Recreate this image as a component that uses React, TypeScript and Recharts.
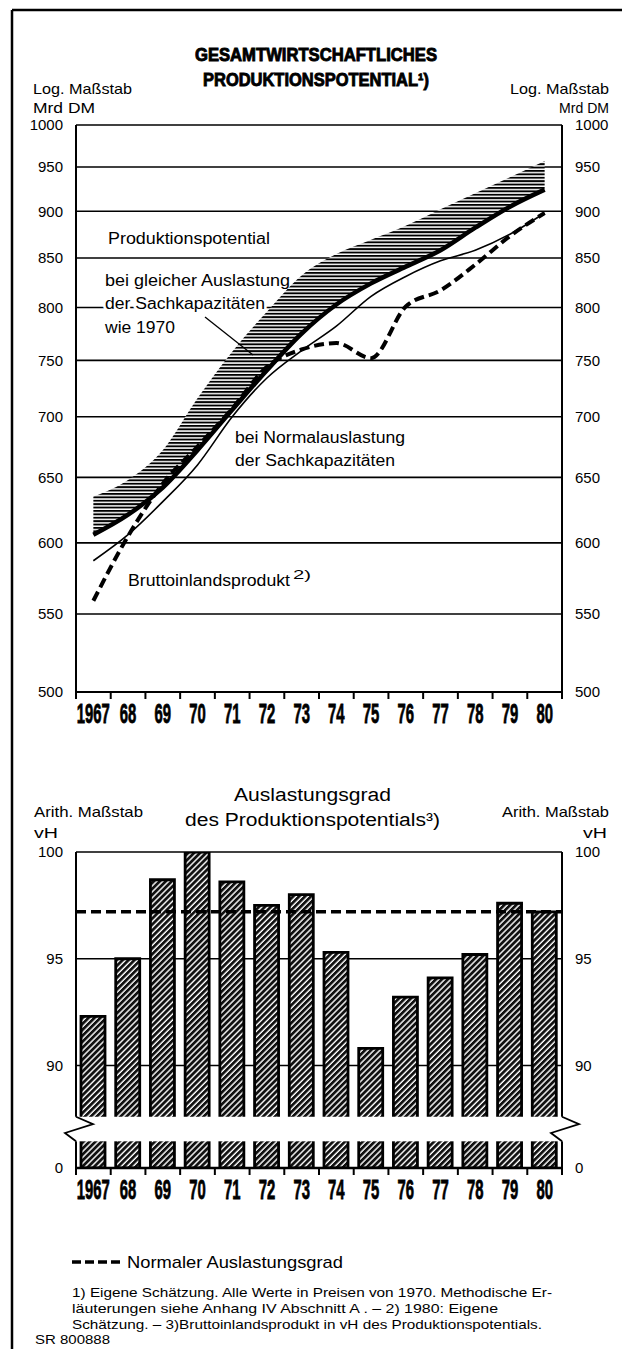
import React from "react";
import {
  ComposedChart,
  Line,
  Area,
  Bar,
  XAxis,
  YAxis,
  CartesianGrid,
  ReferenceLine,
  ReferenceArea,
} from "recharts";

// years on both panels
const years = ["1967", "68", "69", "70", "71", "72", "73", "74", "75", "76", "77", "78", "79", "80"];

// upper panel, Mrd DM (log scale)
const hatchTop = [635, 648, 672, 716, 758, 796, 832, 854, 869, 884, 902, 920, 938, 957];
const potGleich = [606, 621, 642, 672, 706, 741, 775, 803, 824, 841, 858, 882, 905, 924];
const potNormal = [587, 606, 631, 660, 700, 734, 759, 782, 811, 831, 847, 858, 875, 898];
const bip = [559, 605, 645, 675, 707, 744, 760, 766, 752, 801, 817, 843, 873, 898];
const logTicks = [500, 550, 600, 650, 700, 750, 800, 850, 900, 950, 1000];

// lower panel, vH
const auslastung = [92.3, 95.0, 98.7, 100.0, 98.6, 97.5, 98.0, 95.3, 90.8, 93.2, 94.1, 95.2, 97.6, 97.2];
const normalGrad = 97.2;
// broken axis: the floor of the domain stands for 0
const AXIS_FLOOR = 85.2;
const BREAK_LOW = 86.45;
const BREAK_HIGH = 87.6;
const vhTicks = [AXIS_FLOOR, 90, 95, 100];

const FONT = '"Liberation Sans", Arial, Helvetica, sans-serif';
const PLOT_L = 76;
const PLOT_R = 562;
const AXIS_W = 50;
const BAND = (PLOT_R - PLOT_L) / years.length;

const potData = years.map((year, i) => ({
  year,
  band: [potGleich[i], hatchTop[i]],
  potGleich: potGleich[i],
  potNormal: potNormal[i],
  bip: bip[i],
}));

const utilData = years.map((year, i) => ({ year, value: auslastung[i] }));

function YearTick(props: any) {
  const { x, y, payload, index } = props;
  const left = x - BAND / 2;
  return (
    <g>
      <line x1={left} x2={left} y1={y} y2={y + 7} stroke="#000" strokeWidth={2} />
      {index === years.length - 1 && (
        <line x1={left + BAND} x2={left + BAND} y1={y} y2={y + 7} stroke="#000" strokeWidth={2} />
      )}
      <g transform={`translate(${x},${y + 31}) scale(0.55,1)`}>
        <text
          x={0}
          y={0}
          textAnchor="middle"
          fontFamily={FONT}
          fontSize={27}
          fontWeight={700}
          fill="#000"
          stroke="#000"
          strokeWidth={0.8}
        >
          {payload.value}
        </text>
      </g>
    </g>
  );
}

function BreakShape(props: any) {
  const { x, y, width, height } = props;
  const zig = (x0: number) =>
    `${x0},${y} ${x0 + 17},${y + height * 0.3} ${x0 - 11},${y + height * 0.66} ${x0},${y + height}`;
  return (
    <g>
      <rect x={x - 14} y={y} width={width + 34} height={height} fill="#fff" />
      <polyline points={zig(x)} fill="none" stroke="#000" strokeWidth={1.8} />
      <polyline points={zig(x + width)} fill="none" stroke="#000" strokeWidth={1.8} />
    </g>
  );
}

const tickStyle = { fill: "#000", fontSize: 15, fontFamily: FONT };

function T(props: any) {
  const { children, halo, ...rest } = props;
  return (
    <text
      fontFamily={FONT}
      fill="#000"
      lengthAdjust="spacingAndGlyphs"
      {...(halo ? { stroke: "#fff", strokeWidth: 5, paintOrder: "stroke" } : {})}
      {...rest}
    >
      {children}
    </text>
  );
}

export default function App() {
  return (
    <div
      style={{
        position: "absolute",
        left: 0,
        top: 0,
        width: 622,
        height: 1349,
        background: "#fff",
        overflow: "hidden",
        fontFamily: FONT,
      }}
    >
      <svg width={0} height={0} style={{ position: "absolute" }}>
        <defs>
          <pattern id="hlines" patternUnits="userSpaceOnUse" width={8} height={3.4}>
            <rect width={8} height={3.4} fill="#fff" />
            <rect width={8} height={1.9} fill="#000" />
          </pattern>
          <pattern
            id="diag"
            patternUnits="userSpaceOnUse"
            width={4.2}
            height={4.2}
            patternTransform="rotate(-45)"
          >
            <rect width={4.2} height={4.2} fill="#fff" />
            <rect width={4.2} height={2.8} fill="#111" />
          </pattern>
        </defs>
      </svg>

      <div style={{ position: "absolute", left: 0, top: 0 }}>
        <ComposedChart
          width={622}
          height={740}
          data={potData}
          margin={{ top: 125, right: 622 - PLOT_R - AXIS_W, bottom: 14, left: PLOT_L - AXIS_W }}
        >
          <CartesianGrid yAxisId="l" vertical={false} stroke="#000" strokeWidth={1.6} />
          <XAxis
            dataKey="year"
            scale="band"
            interval={0}
            height={34}
            axisLine={{ stroke: "#000", strokeWidth: 2 }}
            tickLine={false}
            tickSize={0}
            tickMargin={0}
            tick={<YearTick />}
          />
          <YAxis
            yAxisId="l"
            scale="log"
            domain={[500, 1000]}
            ticks={logTicks}
            allowDataOverflow
            width={AXIS_W}
            axisLine={{ stroke: "#000", strokeWidth: 2 }}
            tickLine={false}
            tickSize={0}
            tickMargin={13}
            tick={tickStyle}
          />
          <YAxis
            yAxisId="r"
            orientation="right"
            scale="log"
            domain={[500, 1000]}
            ticks={logTicks}
            allowDataOverflow
            width={AXIS_W}
            axisLine={{ stroke: "#000", strokeWidth: 2 }}
            tickLine={false}
            tickSize={0}
            tickMargin={13}
            tick={{ ...tickStyle, textAnchor: "start" }}
          />
          <Area
            yAxisId="l"
            type="monotone"
            dataKey="band"
            fill="url(#hlines)"
            fillOpacity={1}
            stroke="none"
            isAnimationActive={false}
          />
          <Line
            yAxisId="l"
            type="monotone"
            dataKey="potGleich"
            stroke="#000"
            strokeWidth={4.5}
            dot={false}
            isAnimationActive={false}
          />
          <Line
            yAxisId="l"
            type="monotone"
            dataKey="potNormal"
            stroke="#000"
            strokeWidth={1.6}
            dot={false}
            isAnimationActive={false}
          />
          <Line
            yAxisId="l"
            type="monotone"
            dataKey="bip"
            stroke="#000"
            strokeWidth={4}
            strokeDasharray="10 5"
            dot={false}
            isAnimationActive={false}
          />
        </ComposedChart>
      </div>

      <div style={{ position: "absolute", left: 0, top: 760 }}>
        <ComposedChart
          width={622}
          height={460}
          data={utilData}
          margin={{ top: 92, right: 622 - PLOT_R - AXIS_W, bottom: 18, left: PLOT_L - AXIS_W }}
        >
          <CartesianGrid yAxisId="l" vertical={false} stroke="#000" strokeWidth={1.6} />
          <XAxis
            dataKey="year"
            scale="band"
            interval={0}
            height={34}
            axisLine={{ stroke: "#000", strokeWidth: 2.5 }}
            tickLine={false}
            tickSize={0}
            tickMargin={0}
            tick={<YearTick />}
          />
          <YAxis
            yAxisId="l"
            domain={[AXIS_FLOOR, 100]}
            ticks={vhTicks}
            allowDataOverflow
            tickFormatter={(v: number) => (v === AXIS_FLOOR ? "0" : String(v))}
            width={AXIS_W}
            axisLine={{ stroke: "#000", strokeWidth: 2 }}
            tickLine={false}
            tickSize={0}
            tickMargin={13}
            tick={tickStyle}
          />
          <YAxis
            yAxisId="r"
            orientation="right"
            domain={[AXIS_FLOOR, 100]}
            ticks={vhTicks}
            allowDataOverflow
            tickFormatter={(v: number) => (v === AXIS_FLOOR ? "0" : String(v))}
            width={AXIS_W}
            axisLine={{ stroke: "#000", strokeWidth: 2 }}
            tickLine={false}
            tickSize={0}
            tickMargin={13}
            tick={{ ...tickStyle, textAnchor: "start" }}
          />
          <Bar
            yAxisId="l"
            dataKey="value"
            barSize={24}
            fill="url(#diag)"
            stroke="#000"
            strokeWidth={2.8}
            isAnimationActive={false}
          />
          <ReferenceLine
            yAxisId="l"
            y={normalGrad}
            stroke="#000"
            strokeWidth={3.5}
            strokeDasharray="10 5"
            zIndex={1200}
          />
          <ReferenceArea
            yAxisId="l"
            y1={BREAK_LOW}
            y2={BREAK_HIGH}
            shape={BreakShape}
            ifOverflow="visible"
            zIndex={1500}
          />
        </ComposedChart>
      </div>

      <svg
        width={622}
        height={1349}
        style={{ position: "absolute", left: 0, top: 0, pointerEvents: "none" }}
      >
        {/* frame */}
        <line x1={12} y1={10} x2={12} y2={1349} stroke="#000" strokeWidth={2.5} />
        <line x1={12} y1={10} x2={622} y2={10} stroke="#000" strokeWidth={2.5} />

        {/* title */}
        <T x={195} y={61} fontSize={18} fontWeight={700} stroke="#000" strokeWidth={0.9} textLength={242}>
          GESAMTWIRTSCHAFTLICHES
        </T>
        <T x={203} y={86} fontSize={18} fontWeight={700} stroke="#000" strokeWidth={0.9} textLength={226}>
          PRODUKTIONSPOTENTIAL¹)
        </T>

        {/* upper axis captions */}
        <T x={33} y={94} fontSize={15} textLength={99}>Log. Maßstab</T>
        <T x={33} y={113} fontSize={15} textLength={62}>Mrd  DM</T>
        <T x={510} y={94} fontSize={15} textLength={99}>Log. Maßstab</T>
        <T x={559} y={113} fontSize={15} textLength={50}>Mrd  DM</T>

        {/* upper annotations */}
        <T x={108} y={244} fontSize={16} textLength={162}>Produktionspotential</T>
        <T x={105} y={286} fontSize={16} textLength={185}>bei gleicher Auslastung</T>
        <T x={105} y={309} fontSize={16} textLength={160} halo>der Sachkapazitäten</T>
        <T x={105} y={333} fontSize={16} textLength={70}>wie 1970</T>
        <line x1={205} y1={317} x2={253} y2={355} stroke="#000" strokeWidth={1.3} />
        <T x={235} y={443} fontSize={16} textLength={170}>bei Normalauslastung</T>
        <T x={235} y={466} fontSize={16} textLength={160}>der Sachkapazitäten</T>
        <T x={128} y={586} fontSize={16} textLength={162}>Bruttoinlandsprodukt</T>
        <T x={293} y={579} fontSize={12} textLength={18}>2)</T>

        {/* lower captions */}
        <T x={234} y={801} fontSize={18} textLength={157}>Auslastungsgrad</T>
        <T x={185} y={826} fontSize={18} textLength={255}>des Produktionspotentials³)</T>
        <T x={34} y={817} fontSize={15} textLength={109}>Arith. Maßstab</T>
        <T x={34} y={838} fontSize={15} textLength={24}>vH</T>
        <T x={502} y={817} fontSize={15} textLength={107}>Arith. Maßstab</T>
        <T x={583} y={838} fontSize={15} textLength={24}>vH</T>

        {/* legend */}
        <line x1={72} y1={1262} x2={122} y2={1262} stroke="#000" strokeWidth={3.5} strokeDasharray="9 4" />
        <T x={127} y={1268} fontSize={17} textLength={216}>Normaler Auslastungsgrad</T>

        {/* footnotes */}
        <T x={72} y={1297} fontSize={13} textLength={480}>
          1) Eigene Schätzung. Alle Werte in Preisen von 1970. Methodische Er-
        </T>
        <T x={72} y={1313} fontSize={13} textLength={426}>
          läuterungen siehe Anhang IV Abschnitt A . – 2) 1980: Eigene
        </T>
        <T x={72} y={1329} fontSize={13} textLength={470}>
          Schätzung. – 3)Bruttoinlandsprodukt in vH des Produktionspotentials.
        </T>
        <T x={35} y={1344} fontSize={13} textLength={75}>SR 800888</T>
      </svg>
    </div>
  );
}
